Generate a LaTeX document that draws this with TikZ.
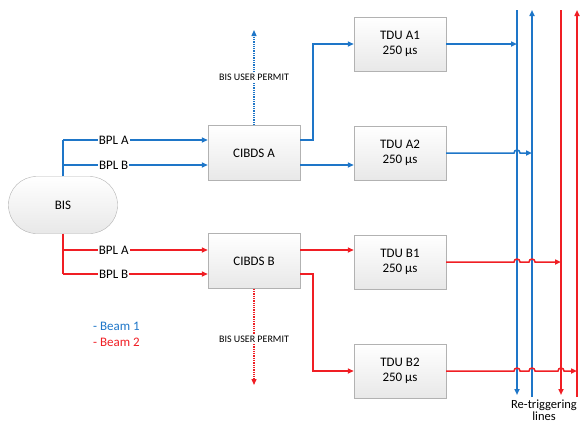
\documentclass[tikz,border=0pt]{standalone}
\usepackage{fontspec}
\setmainfont{Carlito}
\usetikzlibrary{arrows.meta,calc}
\definecolor{bblue}{RGB}{30,118,200}
\definecolor{bred}{RGB}{240,30,36}
\tikzset{
  boxstyle/.style={draw=gray!60, top color=white, bottom color=gray!18, minimum width=92pt, minimum height=55pt, align=center, font=\fontsize{13}{15}\selectfont},
  pill/.style={draw=gray!60, top color=white, bottom color=gray!18, rounded corners=28pt, minimum width=109pt, minimum height=57pt, font=\fontsize{13}{15}\selectfont},
  wire/.style={line width=1.5pt, -{Triangle[length=6pt,width=5pt]}},
  plain/.style={line width=1.5pt},
  lbl/.style={fill=white, inner sep=1pt, font=\fontsize{13}{15}\selectfont},
  permit/.style={fill=white, inner sep=1pt, font=\fontsize{10}{11}\selectfont},
  dotline/.style={line width=1.3pt, densely dotted, -{Triangle[length=6pt,width=5pt]}}
}
\begin{document}
\begin{tikzpicture}[x=1pt,y=1pt]
\useasboundingbox (0,0) rectangle (583,-424);
% nodes
\node[pill] (bis) at (63,-205) {BIS};
\node[boxstyle] (ciba) at (254,-153) {CIBDS A};
\node[boxstyle] (cibb) at (254,-261) {CIBDS B};
\node[boxstyle, minimum height=54pt] (tdua1) at (400,-44) {TDU A1\\250 µs};
\node[boxstyle, minimum height=54pt] (tdua2) at (400,-153) {TDU A2\\250 µs};
\node[boxstyle, minimum height=54pt] (tdub1) at (400,-262) {TDU B1\\250 µs};
\node[boxstyle, minimum height=54pt] (tdub2) at (400,-371) {TDU B2\\250 µs};
% vertical re-triggering lines
\coordinate (v1t) at (517,-10); \coordinate (v1b) at (517,-395);
\coordinate (v2t) at (532,-10); \coordinate (v2b) at (532,-397);
\coordinate (v3t) at (561,-10); \coordinate (v3b) at (561,-395);
\coordinate (v4t) at (577,-10); \coordinate (v4b) at (577,-397);
\draw[wire, bblue] (v1t) -- (v1b);
\draw[wire, bblue] (v2b) -- (v2t);
\draw[wire, bred] (v3t) -- (v3b);
\draw[wire, bred] (v4b) -- (v4t);
% BIS to CIBDS A
\coordinate (bplaA) at ($(ciba.west)+(0,13)$);
\coordinate (bplbA) at ($(ciba.west)+(0,-12)$);
\draw[plain, bblue] (bis.north) -- (bis.north |- bplaA);
\draw[wire, bblue] (bis.north |- bplaA) -- (bplaA) node[lbl, pos=0.35, text=black] {BPL A};
\draw[wire, bblue] (bis.north |- bplbA) -- (bplbA) node[lbl, pos=0.35, text=black] {BPL B};
% BIS to CIBDS B
\coordinate (bplaB) at ($(cibb.west)+(0,11)$);
\coordinate (bplbB) at ($(cibb.west)+(0,-13)$);
\draw[plain, bred] (bis.south) -- (bis.south |- bplbB);
\draw[wire, bred] (bis.south |- bplaB) -- (bplaB) node[lbl, pos=0.35, text=black] {BPL A};
\draw[wire, bred] (bis.south |- bplbB) -- (bplbB) node[lbl, pos=0.35, text=black] {BPL B};
% CIBDS A to TDUs
\draw[wire, bblue] ($(ciba.east)+(0,13)$) -- ++(13,0) |- (tdua1.west);
\draw[wire, bblue] ($(ciba.east)+(0,-12)$) -- ($(tdua2.west)+(0,-12)$);
% CIBDS B to TDUs
\draw[wire, bred] ($(cibb.east)+(0,11)$) -- ($(tdub1.west)+(0,12)$);
\draw[wire, bred] ($(cibb.east)+(0,-13)$) -- ++(13,0) |- (tdub2.west);
% TDU outputs
\draw[wire, bblue] (tdua1.east) -- (tdua1.east -| v1t);
\draw[wire, bblue] (tdua2.east) -- ($(tdua2.east -| v1t)+(-3,0)$) arc (180:0:3) -- (tdua2.east -| v2t);
\draw[wire, bred] (tdub1.east) -- ($(tdub1.east -| v1t)+(-3,0)$) arc (180:0:3)
   -- ($(tdub1.east -| v2t)+(-3,0)$) arc (180:0:3) -- (tdub1.east -| v3t);
\draw[wire, bred] (tdub2.east) -- ($(tdub2.east -| v1t)+(-3,0)$) arc (180:0:3)
   -- ($(tdub2.east -| v2t)+(-3,0)$) arc (180:0:3)
   -- ($(tdub2.east -| v3t)+(-3,0)$) arc (180:0:3) -- (tdub2.east -| v4t);
% permits
\coordinate (pa) at (254,-30);
\coordinate (pb) at (254,-385);
\draw[dotline, bblue] (ciba.north) -- (pa) node[permit, pos=0.5, text=black] {BIS USER PERMIT};
\draw[dotline, bred] (cibb.south) -- (pb) node[permit, pos=0.53, text=black] {BIS USER PERMIT};
% legend
\node[anchor=west, text=bblue, font=\fontsize{13}{15}\selectfont, inner sep=0pt] (lg1) at (93,-326) {- Beam 1};
\node[anchor=west, text=bred, font=\fontsize{13}{15}\selectfont, inner sep=0pt] (lg2) at (93,-342) {- Beam 2};
% re-triggering label
\node[align=center, font=\fontsize{12.5}{12}\selectfont, anchor=north, inner sep=0pt] (rt) at (544,-400) {Re-triggering\\lines};
\end{tikzpicture}
\end{document}
